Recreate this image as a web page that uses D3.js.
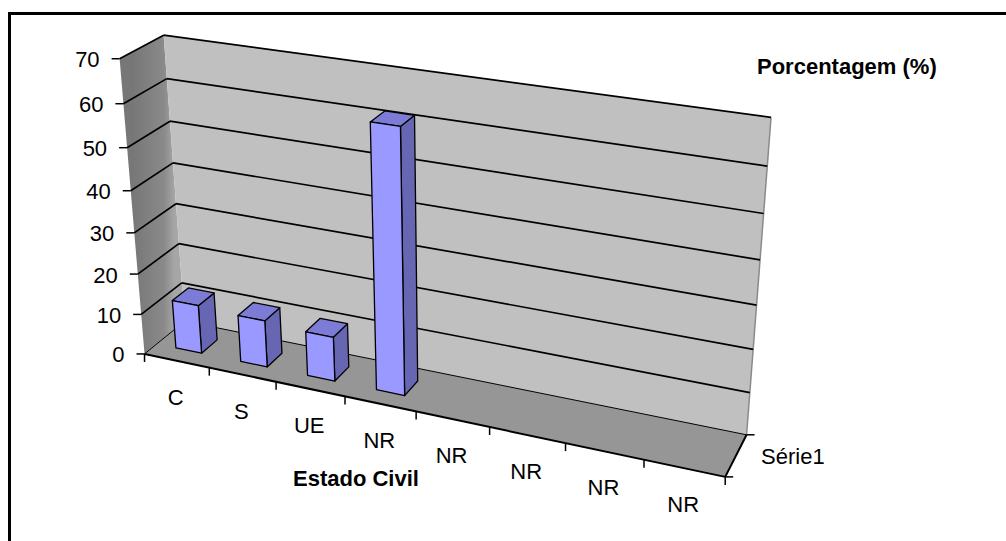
<!DOCTYPE html>
<html>
<head>
<meta charset="utf-8">
<script src="https://cdn.jsdelivr.net/npm/d3@7"></script>
<style>
  html, body { margin: 0; padding: 0; background: #fff; }
  svg { display: block; }
  text { font-family: "Liberation Sans", Arial, sans-serif; font-size: 22px; fill: #000; }
</style>
</head>
<body>
<svg id="chart" width="1006" height="541"></svg>
<script>
// ---- data ----
const categories = ["C", "S", "UE", "NR", "NR", "NR", "NR", "NR"];
const seriesName = "Série1";
const values = [12, 11.5, 10.8, 62, null, null, null, null];
const valueTicks = [0, 10, 20, 30, 40, 50, 60, 70];
const valueAxisTitle = "Porcentagem (%)";
const categoryAxisTitle = "Estado Civil";

// ---- view: where the plot box sits on screen ----
// [category position, value, depth (0 front, 1 back), screen x, screen y]
const boxAnchors = [
  [0, 70, 1, 163, 36], [0, 60, 1, 167, 79], [0, 50, 1, 170, 121], [0, 40, 1, 173, 163],
  [0, 30, 1, 176, 203], [0, 20, 1, 178, 243], [0, 10, 1, 182, 282], [0, 0, 1, 185, 323],
  [8, 70, 1, 772, 118], [8, 60, 1, 767, 166], [8, 50, 1, 763, 213],
  [8, 20, 1, 753, 350], [8, 10, 1, 750, 392], [8, 0, 1, 747, 434],
  [0, 70, 0, 120, 58], [0, 0, 0, 145, 353],
  [1, 0, 0, 210, 367], [2, 0, 0, 275, 382], [3, 0, 0, 345, 397], [4, 0, 0, 416, 412],
  [5, 0, 0, 489, 428], [6, 0, 0, 566, 445], [8, 0, 0, 725, 475]
];

const svg = d3.select("#chart");
const cat = d3.scaleLinear().domain([0, categories.length]).range([0, 1]);
const val = d3.scaleLinear().domain([0, d3.max(valueTicks)]).range([0, 1]);

// Fit a 3x4 perspective camera matrix to the anchors (least squares DLT).
function solve(N, r) {
  const n = r.length;
  const A = N.map((row, i) => [...row, r[i]]);
  for (let c = 0; c < n; c++) {
    let p = c;
    for (let i = c + 1; i < n; i++) if (Math.abs(A[i][c]) > Math.abs(A[p][c])) p = i;
    [A[c], A[p]] = [A[p], A[c]];
    for (let i = 0; i < n; i++) {
      if (i === c) continue;
      const f = A[i][c] / A[c][c];
      for (let j = c; j <= n; j++) A[i][j] -= f * A[c][j];
    }
  }
  return A.map((row, i) => row[n] / row[i]);
}
function fitCamera(anchors) {
  const n = 11;
  const N = Array.from({ length: n }, () => new Array(n).fill(0));
  const r = new Array(n).fill(0);
  const add = (row, b) => {
    for (let i = 0; i < n; i++) {
      r[i] += row[i] * b;
      for (let j = 0; j < n; j++) N[i][j] += row[i] * row[j];
    }
  };
  anchors.forEach(([c, v, d, sx, sy]) => {
    const u = cat(c), t = val(v), w = d, x = sx / 1000, y = sy / 1000;
    add([u, t, w, 1, 0, 0, 0, 0, -x * u, -x * t, -x * w], x);
    add([0, 0, 0, 0, u, t, w, 1, -y * u, -y * t, -y * w], y);
  });
  return solve(N, r);
}
const M = fitCamera(boxAnchors);
function project(c, v, d) {
  const u = cat(c), t = val(v), w = d;
  const den = M[8] * u + M[9] * t + M[10] * w + 1;
  return [
    (M[0] * u + M[1] * t + M[2] * w + M[3]) / den * 1000,
    (M[4] * u + M[5] * t + M[6] * w + M[7]) / den * 1000
  ];
}
const poly = pts => "M" + pts.map(p => project(...p).map(n => n.toFixed(2)).join(",")).join("L") + "Z";
const seg = (a, b) => "M" + project(...a).join(",") + "L" + project(...b).join(",");

const nCat = categories.length;
const vMax = d3.max(valueTicks);

// ---- chart frame ----
svg.append("rect")
  .attr("x", 9.5).attr("y", 13.5).attr("width", 1010).attr("height", 540)
  .attr("fill", "none").attr("stroke", "#000").attr("stroke-width", 3);

// ---- walls and floor ----
const defs = svg.append("defs");
const gA = project(0, vMax / 2, 0), gB = project(0, vMax / 2, 1);
const grad = defs.append("linearGradient").attr("id", "sideWall")
  .attr("gradientUnits", "userSpaceOnUse")
  .attr("x1", gA[0]).attr("y1", 0).attr("x2", gB[0]).attr("y2", 0);
grad.append("stop").attr("offset", 0).attr("stop-color", "#777777");
grad.append("stop").attr("offset", 0.75).attr("stop-color", "#8a8a8a");
grad.append("stop").attr("offset", 1).attr("stop-color", "#a6a6a6");

svg.append("path").attr("d", poly([[0, 0, 0], [0, vMax, 0], [0, vMax, 1], [0, 0, 1]]))
  .attr("fill", "url(#sideWall)");
svg.append("path").attr("d", poly([[0, 0, 1], [0, vMax, 1], [nCat, vMax, 1], [nCat, 0, 1]]))
  .attr("fill", "#c0c0c0");
svg.append("path").attr("d", poly([[0, 0, 0], [nCat, 0, 0], [nCat, 0, 1], [0, 0, 1]]))
  .attr("fill", "#969696");
svg.append("path").attr("d", seg([nCat, 0, 1], [nCat, vMax, 1]))
  .attr("stroke", "#8a8a8a").attr("stroke-width", 1.5).attr("fill", "none");

// ---- gridlines on the back and side walls ----
const grid = svg.append("g").attr("fill", "none").attr("stroke", "#000");
valueTicks.forEach(v => {
  const sw = v === 0 ? 1 : 1.7;
  grid.append("path").attr("d", seg([0, v, 0], [0, v, 1]) + seg([0, v, 1], [nCat, v, 1]))
    .attr("stroke-width", sw).attr("stroke-linejoin", "round");
});

// ---- bars ----
const barInset = 0.3, depthFront = 0.3, depthBack = 0.7;
const faceColor = { front: "#9999ff", top: "#7c7cd6", right: "#6666b3", left: "#6666b3", back: "#6666b3", bottom: "#6666b3" };
function signedArea(pts) {
  const p = pts.map(q => project(...q));
  let a = 0;
  for (let i = 0; i < p.length; i++) {
    const [x1, y1] = p[i], [x2, y2] = p[(i + 1) % p.length];
    a += x1 * y2 - x2 * y1;
  }
  return a / 2;
}
const bars = svg.append("g").attr("stroke", "#000").attr("stroke-width", 1.3).attr("stroke-linejoin", "round");
values.forEach((v, i) => {
  if (v == null) return;
  const u0 = i + barInset, u1 = i + 1 - barInset, w0 = depthFront, w1 = depthBack;
  const faces = {
    back:   [[u0, 0, w1], [u1, 0, w1], [u1, v, w1], [u0, v, w1]],
    bottom: [[u0, 0, w0], [u1, 0, w0], [u1, 0, w1], [u0, 0, w1]],
    left:   [[u0, 0, w0], [u0, 0, w1], [u0, v, w1], [u0, v, w0]],
    right:  [[u1, 0, w0], [u1, v, w0], [u1, v, w1], [u1, 0, w1]],
    top:    [[u0, v, w0], [u0, v, w1], [u1, v, w1], [u1, v, w0]],
    front:  [[u0, 0, w0], [u0, v, w0], [u1, v, w0], [u1, 0, w0]]
  };
  const ref = Math.sign(signedArea(faces.front));
  Object.entries(faces).forEach(([name, pts]) => {
    if (Math.sign(signedArea(pts)) !== ref) return;
    bars.append("path").attr("d", poly(pts)).attr("fill", faceColor[name]);
  });
});

// ---- axes ----
const axes = svg.append("g").attr("fill", "none").attr("stroke", "#000");
axes.append("path").attr("d", seg([0, 0, 0], [nCat, 0, 0])).attr("stroke-width", 2);
axes.append("path").attr("d", seg([nCat, 0, 0], [nCat, 0, 1])).attr("stroke-width", 2);

// value axis ticks and labels along the front edge of the side wall
valueTicks.forEach(v => {
  const [x, y] = project(0, v, 0);
  axes.append("path").attr("d", `M${x - 8},${y}L${x},${y}`).attr("stroke-width", 1.5);
  svg.append("text").attr("x", x - 20).attr("y", y + 8.5)
    .attr("text-anchor", "end").text(v);
});

// category ticks and labels
d3.range(nCat + 1).forEach(i => {
  const [x, y] = project(i, 0, 0);
  axes.append("path").attr("d", `M${x},${y}L${x},${y + 8}`).attr("stroke-width", 1.5);
});
categories.forEach((c, i) => {
  const [x, y] = project(i + 0.5, 0, 0);
  svg.append("text").attr("x", x - 1).attr("y", y + 44).attr("text-anchor", "middle").text(c);
});

// depth (series) axis ticks and label
[0, 1].forEach(d => {
  const [x, y] = project(nCat, 0, d);
  axes.append("path").attr("d", `M${x},${y}L${x + 8},${y}`).attr("stroke-width", 1.5);
});
{
  const [x, y] = project(nCat, 0, 0.5);
  svg.append("text").attr("x", x + 25).attr("y", y + 9).text(seriesName);
}

// ---- axis titles ----
svg.append("text").attr("x", 757).attr("y", 73.5)
  .style("font-weight", "bold").text(valueAxisTitle);
svg.append("text").attr("x", 293).attr("y", 486)
  .style("font-weight", "bold").text(categoryAxisTitle);
</script>
</body>
</html>
